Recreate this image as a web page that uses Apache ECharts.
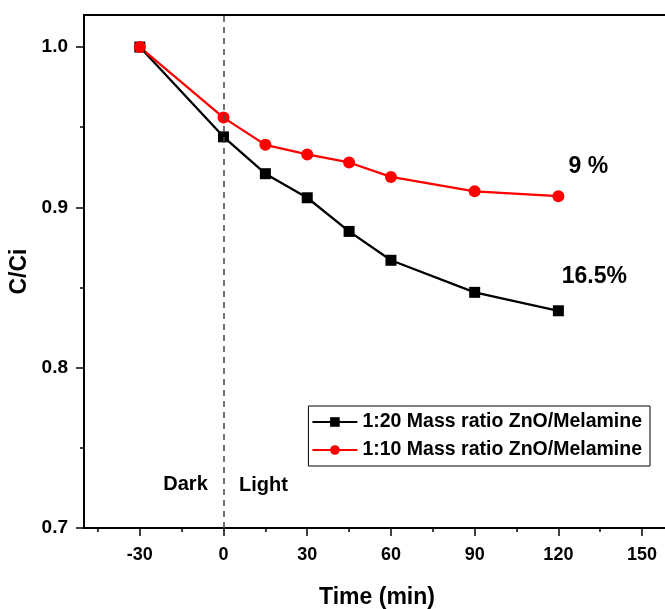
<!DOCTYPE html>
<html><head><meta charset="utf-8">
<script src="https://cdn.jsdelivr.net/npm/echarts@6/dist/echarts.min.js"></script>
<style>html,body{margin:0;padding:0;background:#fff}#c{width:665px;height:609px}</style>
</head><body><div id="c"></div>
<script>
const times = [-30, 0, 15, 30, 45, 60, 90, 120];
const ratio20 = [1.0, 0.944, 0.921, 0.906, 0.885, 0.867, 0.847, 0.8355];
const ratio10 = [1.0, 0.956, 0.939, 0.933, 0.928, 0.919, 0.910, 0.907];
const seriesNames = ['1:20 Mass ratio ZnO/Melamine', '1:10 Mass ratio ZnO/Melamine'];
const xTicks = [-30, 0, 30, 60, 90, 120, 150];
const xMinorTicks = [-45, -15, 15, 45, 75, 105, 135];
const yTicks = [0.7, 0.8, 0.9, 1.0];
const yMinorTicks = [0.75, 0.85, 0.95];
const annotations = [
  {text: '16.5%', x: 120, y: 0.8355, offset: [36, -34]},
  {text: '9 %', x: 120, y: 0.907, offset: [30, -29]}
];
const phaseLabels = [
  {text: 'Dark', x: 0, y: 0.727, offset: [-38, 0]},
  {text: 'Light', x: 0, y: 0.727, offset: [40, 1]}
];

const FONT = 'Liberation Sans, Arial, sans-serif';
const chart = echarts.init(document.getElementById('c'));
const baseX = {
  type: 'value', min: -50, max: 160, gridIndex: 0, position: 'bottom',
  splitLine: {show: false}
};
const baseY = {
  type: 'value', min: 0.7, max: 1.02, gridIndex: 0, position: 'left',
  splitLine: {show: false}
};
const mkPts = (arr, size) => arr.map(a => ({
  coord: [a.x, a.y], symbol: 'circle', symbolSize: 0,
  label: {show: true, formatter: a.text, offset: a.offset, position: 'inside',
    fontFamily: FONT, fontWeight: 'bold', fontSize: size, color: '#000'}
}));
chart.setOption({
  animation: false,
  backgroundColor: '#fff',
  grid: {left: 84, top: 15, right: -5, bottom: 81, show: true, borderColor: '#000', borderWidth: 2,
    containLabel: false, outerBoundsMode: 'none'},
  legend: {
    right: 15, top: 406, orient: 'vertical',
    data: seriesNames,
    itemWidth: 45, itemHeight: 12, itemGap: 8,
    padding: [6, 8, 6, 3],
    borderColor: '#000', borderWidth: 1,
    textStyle: {fontFamily: FONT, fontWeight: 'bold', fontSize: 19.5, color: '#000'}
  },
  xAxis: [
    Object.assign({}, baseX, {
      name: 'Time (min)', nameLocation: 'middle', nameGap: 58,
      nameTextStyle: {fontFamily: FONT, fontWeight: 'bold', fontSize: 23, color: '#000'},
      axisLine: {show: true, onZero: false, lineStyle: {color: '#000', width: 2}},
      axisTick: {show: true, inside: false, length: 8, lineStyle: {color: '#000', width: 1.5}, customValues: xTicks},
      axisLabel: {show: true, margin: 18, customValues: xTicks, fontFamily: FONT, fontWeight: 'bold', fontSize: 18, color: '#000'}
    }),
    Object.assign({}, baseX, {
      axisLine: {show: false, onZero: false},
      axisTick: {show: true, length: 4, lineStyle: {color: '#000', width: 1.5}, customValues: xMinorTicks},
      axisLabel: {show: false}
    })
  ],
  yAxis: [
    Object.assign({}, baseY, {
      name: 'C/Ci', nameLocation: 'middle', nameGap: 53, nameRotate: 90,
      nameTextStyle: {fontFamily: FONT, fontWeight: 'bold', fontSize: 23, color: '#000'},
      axisLine: {show: true, onZero: false, lineStyle: {color: '#000', width: 2}},
      axisTick: {show: true, length: 8, lineStyle: {color: '#000', width: 1.5}, customValues: yTicks},
      axisLabel: {show: true, margin: 16, customValues: yTicks, formatter: v => v.toFixed(1),
        fontFamily: FONT, fontWeight: 'bold', fontSize: 19, color: '#000'}
    }),
    Object.assign({}, baseY, {
      axisLine: {show: false, onZero: false},
      axisTick: {show: true, length: 4, lineStyle: {color: '#000', width: 1.5}, customValues: yMinorTicks},
      axisLabel: {show: false}
    })
  ],
  series: [
    {
      name: seriesNames[0], type: 'line', xAxisIndex: 0, yAxisIndex: 0,
      data: times.map((t, i) => [t, ratio20[i]]),
      symbol: 'rect', symbolSize: 11,
      lineStyle: {color: '#000', width: 2.3}, itemStyle: {color: '#000'},
      markLine: {
        silent: true, symbol: 'none', label: {show: false},
        lineStyle: {color: '#444', width: 1.5, type: [6, 5]},
        data: [{xAxis: 0}]
      },
      markPoint: {data: mkPts([annotations[0]], 23).concat(mkPts(phaseLabels, 20))}
    },
    {
      name: seriesNames[1], type: 'line', xAxisIndex: 0, yAxisIndex: 0,
      data: times.map((t, i) => [t, ratio10[i]]),
      symbol: 'circle', symbolSize: 12,
      lineStyle: {color: '#ff0000', width: 2.3}, itemStyle: {color: '#ff0000'},
      markPoint: {data: mkPts([annotations[1]], 23)}
    }
  ]
});
</script></body></html>
